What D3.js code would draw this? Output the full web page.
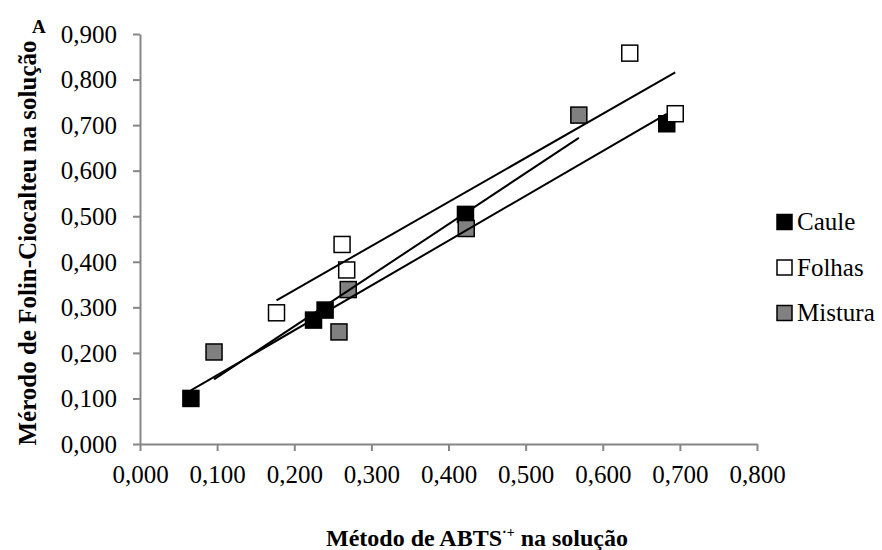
<!DOCTYPE html>
<html>
<head>
<meta charset="utf-8">
<script src="https://cdn.jsdelivr.net/npm/d3@7"></script>
<style>
  body { margin: 0; background: #fff; }
  svg text { font-family: "Liberation Serif", "Times New Roman", serif; fill: #000; }
</style>
</head>
<body>
<div id="chart"></div>
<script>
// values
const seriesNames = ["Caule", "Folhas", "Mistura"]
const seriesFills = ["#000000", "#ffffff", "#808080"]

const cauleX = [0.066, 0.225, 0.240, 0.422, 0.683]
const cauleY = [0.100, 0.272, 0.294, 0.504, 0.703]
const folhasX = [0.177, 0.262, 0.268, 0.635, 0.694]
const folhasY = [0.288, 0.438, 0.382, 0.858, 0.725]
const misturaX = [0.096, 0.258, 0.270, 0.423, 0.569]
const misturaY = [0.202, 0.246, 0.339, 0.473, 0.722]

const xTicks = [0, 0.1, 0.2, 0.3, 0.4, 0.5, 0.6, 0.7, 0.8]
const yTicks = [0, 0.1, 0.2, 0.3, 0.4, 0.5, 0.6, 0.7, 0.8, 0.9]

const series = [
  { name: seriesNames[0], fill: seriesFills[0], xs: cauleX, ys: cauleY },
  { name: seriesNames[1], fill: seriesFills[1], xs: folhasX, ys: folhasY },
  { name: seriesNames[2], fill: seriesFills[2], xs: misturaX, ys: misturaY },
]

const dimensions = {
  width: 882,
  height: 550,
  left: 140,
  right: 757,
  top: 34,
  bottom: 444,
}

const fmt = v => d3.format(".3f")(v).replace(".", ",")

const svg = d3.select("#chart").append("svg")
  .attr("width", dimensions.width)
  .attr("height", dimensions.height)

const xScale = d3.scaleLinear().domain([0, 0.8]).range([dimensions.left, dimensions.right])
const yScale = d3.scaleLinear().domain([0, 0.9]).range([dimensions.bottom, dimensions.top])

// axes
const axisColor = "#868686"

const xAxis = svg.append("g")
  .attr("transform", `translate(0,${dimensions.bottom})`)
  .call(d3.axisBottom(xScale).tickValues(xTicks).tickFormat(fmt).tickSizeInner(7).tickSizeOuter(0))
xAxis.select(".domain").attr("stroke", axisColor).attr("stroke-width", 2)
xAxis.selectAll(".tick line").attr("stroke", axisColor).attr("stroke-width", 2)
xAxis.selectAll(".tick text")
  .attr("font-size", 25)
  .attr("y", 33)
  .attr("dy", 0)
  .attr("dominant-baseline", "middle")

const yAxis = svg.append("g")
  .attr("transform", `translate(${dimensions.left},0)`)
  .call(d3.axisLeft(yScale).tickValues(yTicks).tickFormat(fmt).tickSizeInner(7).tickSizeOuter(0))
yAxis.select(".domain").attr("stroke", axisColor).attr("stroke-width", 2)
yAxis.selectAll(".tick line").attr("stroke", axisColor).attr("stroke-width", 2)
yAxis.selectAll(".tick text")
  .attr("font-size", 25)
  .attr("x", -23)
  .attr("dy", "0.33em")

// markers
const size = 16
series.forEach(s => {
  svg.append("g").selectAll("rect")
    .data(d3.zip(s.xs, s.ys))
    .join("rect")
      .attr("x", d => xScale(d[0]) - size / 2)
      .attr("y", d => yScale(d[1]) - size / 2)
      .attr("width", size)
      .attr("height", size)
      .attr("fill", s.fill)
      .attr("stroke", "#000")
      .attr("stroke-width", 1.5)
})

// linear trendlines
series.forEach(s => {
  const pts = d3.zip(s.xs, s.ys)
  const mx = d3.mean(s.xs), my = d3.mean(s.ys)
  const slope = d3.sum(pts, d => (d[0] - mx) * (d[1] - my)) / d3.sum(pts, d => (d[0] - mx) ** 2)
  const icpt = my - slope * mx
  const [x0, x1] = d3.extent(s.xs)
  svg.append("line")
    .attr("x1", xScale(x0)).attr("y1", yScale(icpt + slope * x0))
    .attr("x2", xScale(x1)).attr("y2", yScale(icpt + slope * x1))
    .attr("stroke", "#000")
    .attr("stroke-width", 2)
})

// legend
const legend = svg.append("g").attr("transform", "translate(777,222)")
const entries = legend.selectAll("g")
  .data(series)
  .join("g")
    .attr("transform", (d, i) => `translate(0,${i * 45.5})`)
entries.append("rect")
  .attr("x", 0).attr("y", -7.5)
  .attr("width", 15).attr("height", 15)
  .attr("fill", d => d.fill)
  .attr("stroke", "#000")
  .attr("stroke-width", 1.5)
entries.append("text")
  .attr("x", 20)
  .attr("y", 8)
  .attr("font-size", 25)
  .text(d => d.name)

// titles
svg.append("text")
  .attr("transform", `translate(36,${(dimensions.top + dimensions.bottom) / 2 + 4}) rotate(-90)`)
  .attr("text-anchor", "middle")
  .attr("font-size", 25)
  .attr("font-weight", "bold")
  .text("Mérodo de Folin-Ciocalteu na solução")

const xTitle = svg.append("text")
  .attr("x", 477)
  .attr("y", 546)
  .attr("text-anchor", "middle")
  .attr("font-size", 24)
  .attr("font-weight", "bold")
xTitle.append("tspan").text("Método de ABTS")
xTitle.append("tspan").attr("font-size", 14).attr("dy", -9).text("·+")
xTitle.append("tspan").attr("dy", 9).text(" na solução")

svg.append("text")
  .attr("x", 32)
  .attr("y", 33)
  .style("font-size", "19px")
  .attr("font-weight", "bold")
  .text("A")
</script>
</body>
</html>
